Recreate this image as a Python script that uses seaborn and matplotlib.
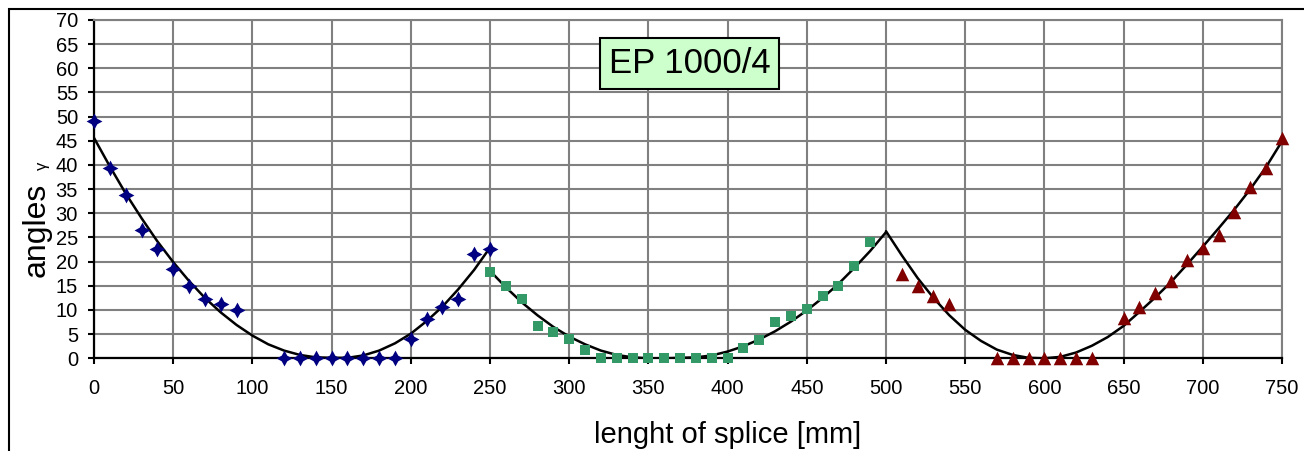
import numpy as np
import pandas as pd
import seaborn as sns
import matplotlib.pyplot as plt
from matplotlib.patches import Rectangle

x_sec1 = [0, 10, 20, 30, 40, 50, 60, 70, 80, 90,
          120, 130, 140, 150, 160, 170, 180, 190,
          200, 210, 220, 230, 240, 250]
y_sec1 = [49.2, 39.3, 33.8, 26.5, 22.6, 18.5, 15.0, 12.2, 11.2, 10.1,
          0, 0, 0, 0, 0, 0, 0, 0,
          3.9, 8.1, 10.7, 12.3, 21.6, 22.6]

x_sec2 = [250, 260, 270, 280, 290, 300, 310,
          320, 330, 340, 350, 360, 370, 380, 390, 400,
          410, 420, 430, 440, 450, 460, 470, 480, 490]
y_sec2 = [17.9, 15.0, 12.3, 6.6, 5.4, 4.1, 1.7,
          0, 0, 0, 0, 0, 0, 0, 0, 0,
          2.1, 3.7, 7.6, 8.8, 10.3, 12.8, 15.0, 19.0, 24.0]

x_sec3 = [510, 520, 530, 540,
          570, 580, 590, 600, 610, 620, 630,
          650, 660, 670, 680, 690, 700, 710, 720, 730, 740, 750]
y_sec3 = [17.5, 15.0, 12.8, 11.3,
          0, 0, 0, 0, 0, 0, 0,
          8.3, 10.6, 13.5, 16.1, 20.3, 22.9, 25.6, 30.2, 35.4, 39.4, 45.6]

# trend curves (black), read every 10 mm
x_fit1 = list(range(0, 260, 10))
y_fit1 = [45.6, 39.7, 34.1, 29.0, 24.2, 19.9, 16.0, 12.5, 9.5, 6.9,
          4.7, 2.9, 1.6, 0.7, 0.2, 0.1, 0.1, 0.6, 1.6, 3.1,
          5.1, 7.7, 10.7, 14.3, 18.3, 22.9]
x_fit2 = list(range(250, 510, 10))
y_fit2 = [18.1, 14.7, 11.6, 8.9, 6.5, 4.5, 2.9, 1.6, 0.7, 0.2,
          0.0, 0.0, 0.1, 0.2, 0.6, 1.4, 2.5, 3.9, 5.6, 7.6,
          9.9, 12.5, 15.4, 18.7, 22.2, 26.1]
x_fit3 = list(range(500, 760, 10))
y_fit3 = [26.3, 21.3, 16.6, 12.5, 8.9, 5.9, 3.6, 1.8, 0.7, 0.1,
          0.0, 0.3, 1.2, 2.6, 4.4, 6.7, 9.6, 12.6, 15.8, 19.4,
          23.1, 26.9, 30.8, 35.0, 39.6, 44.9]

x_ticks = list(range(0, 800, 50))
y_ticks = list(range(0, 75, 5))

sns.set_style('white')
plt.rcParams['font.family'] = ['Liberation Sans', 'DejaVu Sans']
plt.rcParams['text.color'] = 'black'
plt.rcParams['axes.labelcolor'] = 'black'

fig = plt.figure(figsize=(13.04, 4.51), dpi=100)
ax = fig.add_axes([0.0721, 0.2055, 0.9110, 0.7502])

grid_c = '#808080'

# curves
for xs, ys in [(x_fit1, y_fit1), (x_fit2, y_fit2), (x_fit3, y_fit3)]:
    sns.lineplot(x=xs, y=ys, color='black', lw=1.8, ax=ax, zorder=3)

# measured points
sns.scatterplot(x=x_sec1, y=y_sec1, marker=(4, 1, 0), s=130, color='#000080',
                linewidth=0, ax=ax, zorder=4, clip_on=False)
sns.scatterplot(x=x_sec2, y=y_sec2, marker='s', s=55, color='#339966',
                linewidth=0, ax=ax, zorder=4, clip_on=False)
sns.scatterplot(x=x_sec3, y=y_sec3, marker='^', s=95, color='#800000',
                linewidth=0, ax=ax, zorder=4, clip_on=False)

ax.set_xlim(0, 750)
ax.set_ylim(0, 70)
ax.set_xticks(x_ticks)
ax.set_yticks(y_ticks)
ax.grid(True, color=grid_c, lw=1.5)
ax.set_axisbelow(True)

for side in ['left', 'bottom']:
    ax.spines[side].set_color('black')
    ax.spines[side].set_linewidth(1.6)
for side in ['top', 'right']:
    ax.spines[side].set_color(grid_c)
    ax.spines[side].set_linewidth(1.5)

ax.tick_params(axis='x', bottom=True, direction='out', length=4.5, width=1.5,
               color='black', labelcolor='black', labelsize=14.5, pad=10.5)
ax.tick_params(axis='y', left=True, direction='out', length=4.5, width=1.5,
               color='black', labelcolor='black', labelsize=14.5, pad=7)

ax.set_xlabel('lenght of splice [mm]', fontsize=21)
ax.xaxis.set_label_coords(0.533, -0.185)
ax.set_ylabel('angles', fontsize=23)
ax.yaxis.set_label_coords(-0.036, 0.38)
ax.text(-0.043, 0.57, 'γ', transform=ax.transAxes, fontsize=12,
        rotation=90, ha='center', va='center')

ax.text(376, 61, 'EP 1000/4', fontsize=25, ha='center', va='center', zorder=6,
        bbox=dict(boxstyle='square,pad=0.25', fc='#CCFFCC', ec='black', lw=1.5))

# outer chart frame (runs off the right and bottom edge)
fig.add_artist(Rectangle((9 / 1304, -0.5), 2, 1 - 9 / 451 + 0.5,
                         transform=fig.transFigure, fill=False,
                         ec='black', lw=1.5))

fig.savefig('out.png', dpi=100)
